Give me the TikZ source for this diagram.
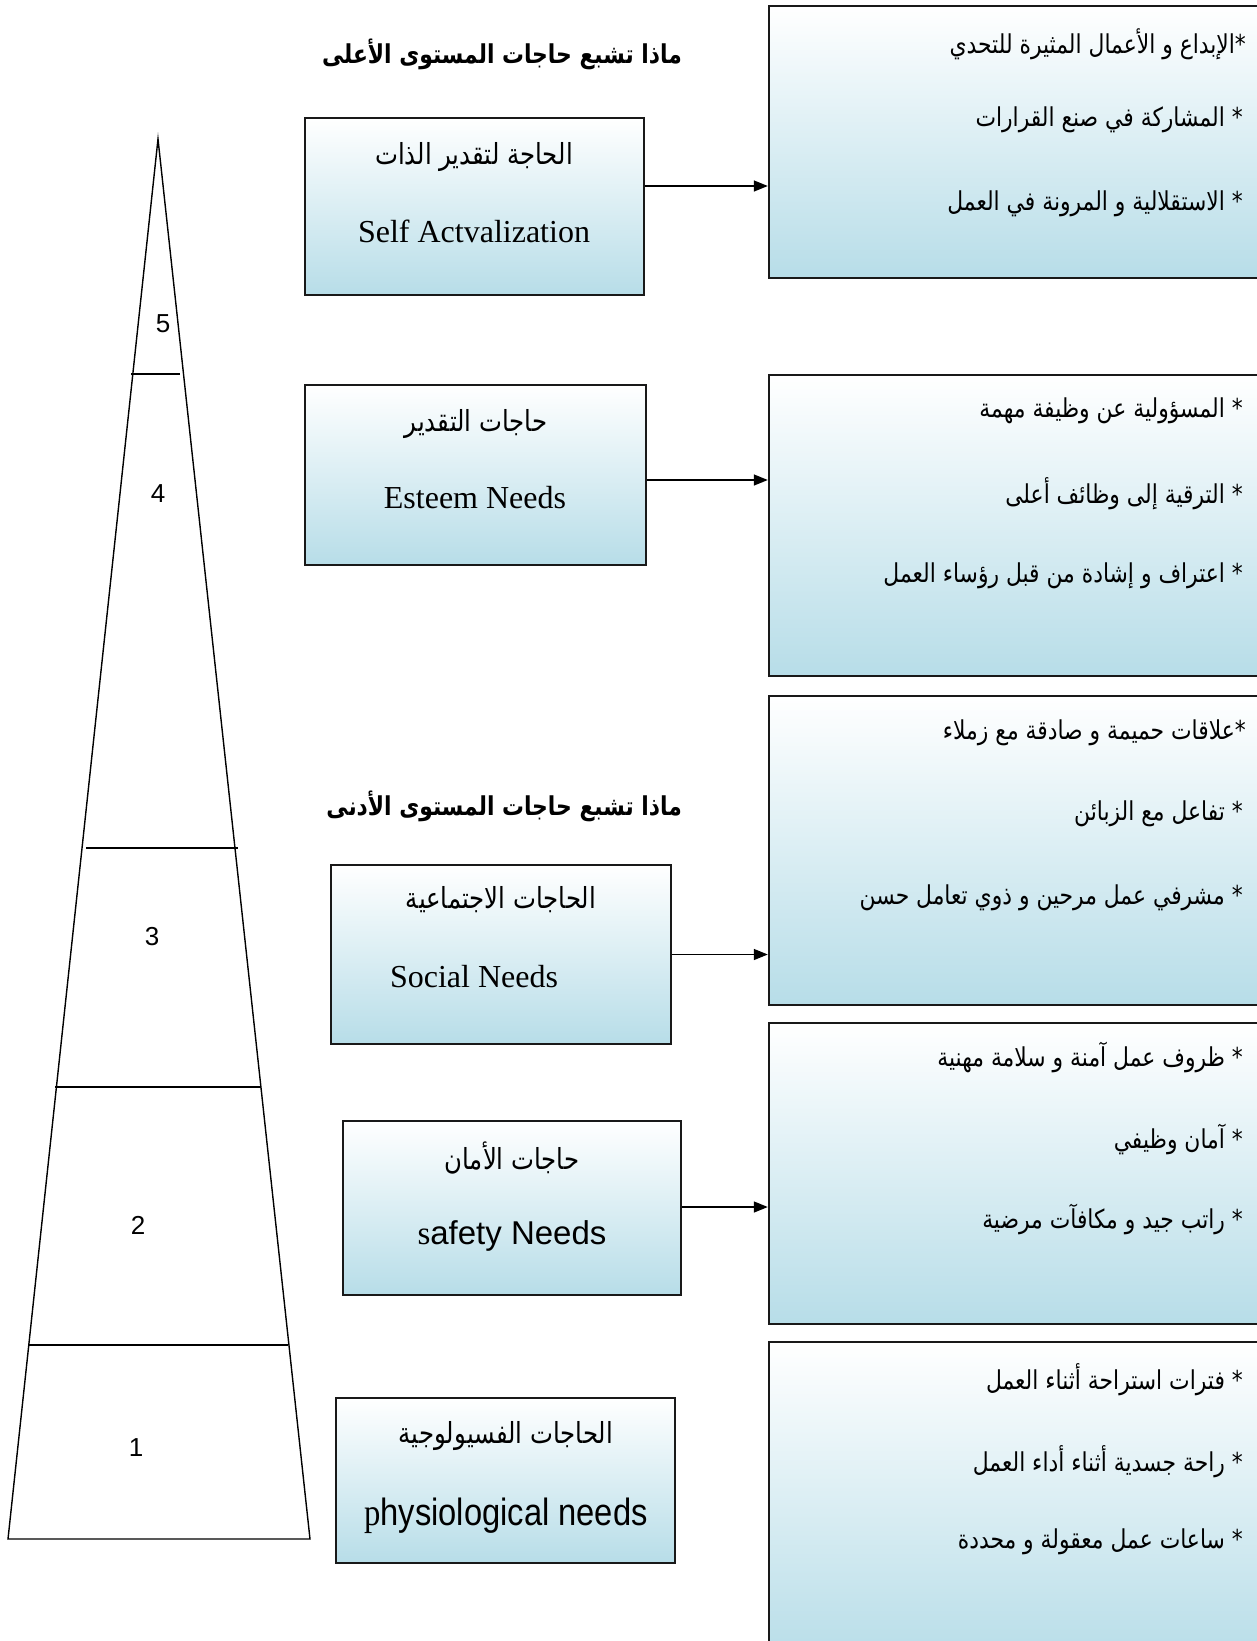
\documentclass[tikz,border=0pt]{standalone}
\usepackage{fontspec}
\usepackage{graphicx}
\usetikzlibrary{arrows.meta}
\setmainfont{Liberation Serif}
\newfontfamily\arabicfont[Script=Arabic]{DejaVu Sans}
\newfontfamily\sansfont{Liberation Sans}
\TeXXeTstate=1

\definecolor{boxblue}{HTML}{B7DDE8}

% right-to-left Arabic, set a little narrower than the font's natural width
\newcommand{\ar}[1]{\scalebox{0.84}[1]{\arabicfont\beginR #1\endR}}

\tikzset{
  needbox/.style={draw=black!90, line width=2.4pt, top color=white,
    bottom color=boxblue, inner sep=0pt},
  listbox/.style={needbox},
  pyr/.style={line width=1.4pt, line join=miter},
  conn/.style={line width=1.4pt, -{Triangle[length=14pt,width=11pt]}},
  artext/.style={font=\fontsize{26}{30}\selectfont, inner sep=0pt},
  boxar/.style={font=\fontsize{29}{33}\selectfont, inner sep=0pt},
  entext/.style={font=\fontsize{32}{36}\selectfont, inner sep=0pt},
  heading/.style={font=\fontsize{26}{30}\selectfont\bfseries, inner sep=0pt},
  level/.style={font=\sansfont\fontsize{26}{30}\selectfont, inner sep=0pt},
  item/.style={artext, anchor=east},
}

\begin{document}
\begin{tikzpicture}[x=1pt, y=-1pt]
\useasboundingbox (0,0) rectangle (1256,1641);
\fill[white] (0,0) rectangle (1256,1641);

% ---------- pyramid of needs ----------
\draw[pyr] (158,139) -- (310,1539) -- (8,1539) -- cycle;
\draw[pyr] (131,374) -- (180,374);
\draw[pyr] (86,848) -- (238,848);
\draw[pyr] (55,1087) -- (261,1087);
\draw[pyr] (29,1345) -- (288,1345);
\node[level] (l5) at (163,324) {5};
\node[level] (l4) at (158,494) {4};
\node[level] (l3) at (152,937) {3};
\node[level] (l2) at (138,1225) {2};
\node[level] (l1) at (136,1448) {1};

% ---------- headings ----------
\node[heading, anchor=east] (h1) at (682,54) {\ar{ماذا تشبع حاجات المستوى الأعلى}};
\node[heading, anchor=east] (h2) at (682,806) {\ar{ماذا تشبع حاجات المستوى الأدنى}};

% ---------- need boxes ----------
\node[needbox, minimum width=339pt, minimum height=177pt] (b1) at (474.5,206.5) {};
\node[needbox, minimum width=341pt, minimum height=180pt] (b2) at (475.5,475) {};
\node[needbox, minimum width=340pt, minimum height=179pt] (b3) at (501,954.5) {};
\node[needbox, minimum width=338pt, minimum height=174pt] (b4) at (512,1208) {};
\node[needbox, minimum width=339pt, minimum height=165pt] (b5) at (505.5,1480.5) {};

\node[boxar] (b1a) at (474,157) {\ar{الحاجة لتقدير الذات}};
\node[entext] (b1b) at (474,231) {Self Actvalization};
\node[boxar] (b2a) at (476,424) {\ar{حاجات التقدير}};
\node[entext] (b2b) at (475,498) {Esteem Needs};
\node[boxar] (b3a) at (501,900) {\ar{الحاجات الاجتماعية}};
\node[entext] (b3b) at (474,977) {Social Needs};
\node[boxar] (b4a) at (512,1158) {\ar{حاجات الأمان}};
\node[entext, font=\sansfont\fontsize{33}{38}\selectfont] (b4b) at (512,1236)
  {{\rmfamily s}afety Needs};
\node[boxar] (b5a) at (506,1436) {\ar{الحاجات الفسيولوجية}};
\node[entext, font=\sansfont\fontsize{38}{42}\selectfont] (b5b) at (506,1516)
  {\scalebox{0.86}[1]{{\rmfamily p}hysiological needs}};

% ---------- example boxes ----------
\node[listbox, minimum width=500pt, minimum height=272pt] (r1) at (1019,142) {};
\node[listbox, minimum width=500pt, minimum height=301pt] (r2) at (1019,525.5) {};
\node[listbox, minimum width=500pt, minimum height=309pt] (r3) at (1019,850.5) {};
\node[listbox, minimum width=500pt, minimum height=301pt] (r4) at (1019,1173.5) {};
\node[listbox, minimum width=500pt, minimum height=320pt] (r5) at (1019,1502) {};

\node[item] (r1a) at (1246,44) {\ar{*الإبداع و الأعمال المثيرة للتحدي}};
\node[item] (r1b) at (1243,120) {\ar{* المشاركة في صنع القرارات}};
\node[item] (r1c) at (1243,204) {\ar{* الاستقلالية و المرونة في العمل}};

\node[item] (r2a) at (1243,411) {\ar{* المسؤولية عن وظيفة مهمة}};
\node[item] (r2b) at (1243,494) {\ar{* الترقية إلى وظائف أعلى}};
\node[item] (r2c) at (1243,576) {\ar{* اعتراف و إشادة من قبل رؤساء العمل}};

\node[item] (r3a) at (1246,733) {\ar{*علاقات حميمة و صادقة مع زملاء}};
\node[item] (r3b) at (1243,814) {\ar{* تفاعل مع الزبائن}};
\node[item] (r3c) at (1243,898) {\ar{* مشرفي عمل مرحين و ذوي تعامل حسن}};

\node[item] (r4a) at (1243,1057) {\ar{* ظروف عمل آمنة و سلامة مهنية}};
\node[item] (r4b) at (1243,1139) {\ar{* آمان وظيفي}};
\node[item] (r4c) at (1243,1219) {\ar{* راتب جيد و مكافآت مرضية}};

\node[item] (r5a) at (1243,1380) {\ar{* فترات استراحة أثناء العمل}};
\node[item] (r5b) at (1243,1462) {\ar{* راحة جسدية أثناء أداء العمل}};
\node[item] (r5c) at (1243,1542) {\ar{* ساعات عمل معقولة و محددة}};

% ---------- connectors ----------
\draw[conn] ([yshift=20.5pt]b1.east) coordinate (s1) -- (s1 -| r1.west);
\draw[conn] ([yshift=-5pt]b2.east) coordinate (s2) -- (s2 -| r2.west);
\draw[conn] (b3.east) coordinate (s3) -- (s3 -| r3.west);
\draw[conn] ([yshift=1pt]b4.east) coordinate (s4) -- (s4 -| r4.west);
\end{tikzpicture}
\end{document}
